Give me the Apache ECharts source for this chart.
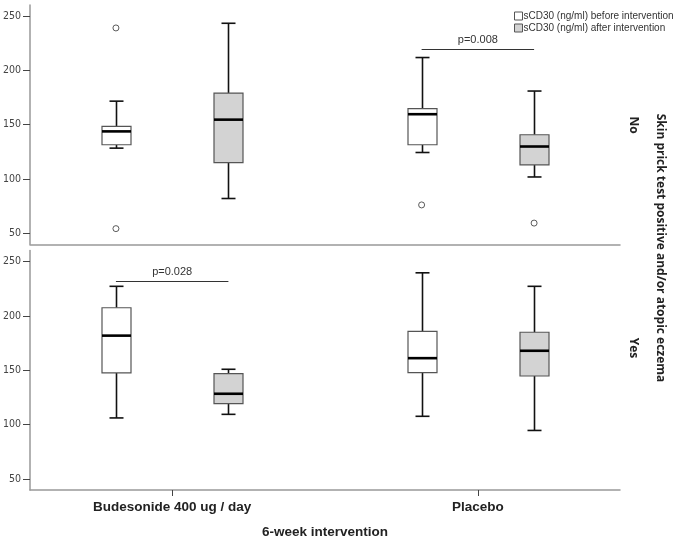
<!DOCTYPE html>
<html>
<head>
<meta charset="utf-8">
<script src="https://cdn.jsdelivr.net/npm/echarts@6/dist/echarts.min.js"></script>
<style>html,body{margin:0;padding:0;background:#fff;}#chart{width:685px;height:558px;}</style>
</head>
<body>
<div id="chart"></div>
<script>
// ---- data ----
const groups = ['Budesonide 400 ug / day', 'Placebo'];
const seriesNames = ['sCD30 (ng/ml) before intervention', 'sCD30 (ng/ml) after intervention'];
const panelLabels = ['No', 'Yes'];
const facetTitle = 'Skin prick test positive and/or atopic eczema';
const xTitle = '6-week intervention';
const yTicks = [50, 100, 150, 200, 250];
// [min, Q1, median, Q3, max] for each group
const noBefore  = [[128.4, 131.5, 143.8, 148.4, 171.6], [124.4, 131.5, 159.6, 164.8, 211.7]];
const noAfter   = [[82.1, 115.1, 154.6, 179.0, 243.2], [101.9, 113.0, 129.9, 140.7, 180.9]];
const yesBefore = [[106.2, 147.5, 181.8, 207.4, 227.1], [107.7, 147.8, 161.1, 185.8, 239.5]];
const yesAfter  = [[109.5, 119.4, 128.4, 146.9, 150.9], [94.7, 144.7, 167.9, 184.9, 227.1]];
// outliers: [group index, value]
const noOutBefore  = [[0, 238.9], [0, 54.4], [1, 76.2]];
const noOutAfter   = [[1, 59.5]];
const yesOutBefore = [];
const yesOutAfter  = [];
// significance brackets
const pTexts  = ['p=0.008', 'p=0.028'];
const pGroups = [1, 0];
const pLevels = [219.4, 231.8];

// ---- layout / style ----
const OFF = 0.184;
const BOXW = 29, CAPW = 14;
const FILLS = ['#ffffff', '#d3d3d3'];
const FONT = "'Liberation Sans', Arial, sans-serif";
const NARROW = "'Liberation Sans Narrow', 'DejaVu Sans Condensed', Arial, sans-serif";

function boxSeries(name, vals, gi, side) {
  const fill = FILLS[side];
  const sign = side === 0 ? -1 : 1;
  return {
    type: 'custom', name: name, xAxisIndex: gi, yAxisIndex: gi,
    itemStyle: { color: fill, borderColor: '#555', borderWidth: 1 },
    encode: { x: 0, y: [1, 2, 3, 4, 5] },
    data: vals.map((v, i) => [i + sign * OFF].concat(v)),
    silent: true,
    renderItem: function (params, api) {
      const x = api.value(0);
      const lo = api.coord([x, api.value(1)]);
      const q1 = api.coord([x, api.value(2)]);
      const md = api.coord([x, api.value(3)]);
      const q3 = api.coord([x, api.value(4)]);
      const hi = api.coord([x, api.value(5)]);
      const cx = Math.round(lo[0]) + 0.5;
      const wl = { stroke: '#111', lineWidth: 1.6 };
      return { type: 'group', children: [
        { type: 'line', shape: { x1: cx, y1: hi[1], x2: cx, y2: q3[1] }, style: wl },
        { type: 'line', shape: { x1: cx, y1: q1[1], x2: cx, y2: lo[1] }, style: wl },
        { type: 'line', shape: { x1: cx - CAPW / 2, y1: hi[1], x2: cx + CAPW / 2, y2: hi[1] }, style: wl },
        { type: 'line', shape: { x1: cx - CAPW / 2, y1: lo[1], x2: cx + CAPW / 2, y2: lo[1] }, style: wl },
        { type: 'rect', shape: { x: cx - BOXW / 2, y: q3[1], width: BOXW, height: q1[1] - q3[1] },
          style: { fill: fill, stroke: '#555', lineWidth: 1.2 } },
        { type: 'line', shape: { x1: cx - BOXW / 2, y1: md[1], x2: cx + BOXW / 2, y2: md[1] },
          style: { stroke: '#000', lineWidth: 2.6 } }
      ] };
    }
  };
}

function outlierSeries(name, pts, gi, side) {
  const sign = side === 0 ? -1 : 1;
  return {
    type: 'scatter', name: name + ' ', xAxisIndex: gi, yAxisIndex: gi, silent: true,
    symbol: 'circle', symbolSize: 6,
    itemStyle: { color: '#fff', borderColor: '#333', borderWidth: 1 },
    data: pts.map(p => [p[0] + sign * OFF, p[1]])
  };
}

function bracketSeries(gi) {
  const g = pGroups[gi];
  return {
    type: 'custom', xAxisIndex: gi, yAxisIndex: gi, silent: true,
    encode: { x: [0, 1], y: 2 },
    data: [[g - OFF, g + OFF, pLevels[gi]]],
    renderItem: function (params, api) {
      const a = api.coord([api.value(0), api.value(2)]);
      const b = api.coord([api.value(1), api.value(2)]);
      const y = Math.round(a[1]) + 0.5;
      return { type: 'group', children: [
        { type: 'line', shape: { x1: a[0], y1: y, x2: b[0], y2: y }, style: { stroke: '#333', lineWidth: 1 } },
        { type: 'text', style: { text: pTexts[gi], x: (a[0] + b[0]) / 2, y: y - 4,
            align: 'center', verticalAlign: 'bottom', fill: '#333', font: '11px ' + FONT } }
      ] };
    }
  };
}

function xAxisDef(gi, bottom) {
  return {
    type: 'value', gridIndex: gi, min: -0.465, max: 1.465,
    axisLine: { show: true, onZero: false, lineStyle: { color: '#999', width: 1.5 } },
    axisTick: { show: bottom, customValues: [0, 1], length: 6, lineStyle: { color: '#444' } },
    axisLabel: { show: bottom, customValues: [0, 1], formatter: v => groups[Math.round(v)] || '',
      fontFamily: FONT, fontWeight: 'bold', fontSize: 13.5, color: '#222', margin: 10 },
    splitLine: { show: false },
    name: bottom ? xTitle : '', nameLocation: 'middle', nameGap: 35,
    nameTextStyle: { fontFamily: FONT, fontWeight: 'bold', fontSize: 13.5, color: '#222' }
  };
}

function yAxisDef(gi) {
  return {
    type: 'value', gridIndex: gi, min: 40, max: 260,
    axisLine: { show: true, onZero: false, lineStyle: { color: '#999', width: 1.5 } },
    axisTick: { show: true, customValues: yTicks, length: 7, lineStyle: { color: '#444' } },
    axisLabel: { customValues: yTicks, fontFamily: NARROW, fontSize: 10.5, color: '#444', margin: 9 },
    splitLine: { show: false }
  };
}

const chart = echarts.init(document.getElementById('chart'), null, { renderer: 'canvas' });
chart.setOption({
  animation: false,
  backgroundColor: '#fff',
  grid: [
    { left: 30, right: 65, top: 5, height: 239.3 },
    { left: 30, right: 65, top: 250.5, height: 239.5 }
  ],
  xAxis: [xAxisDef(0, false), xAxisDef(1, true)],
  yAxis: [yAxisDef(0), yAxisDef(1)],
  legend: {
    orient: 'vertical', left: 509, top: 6, itemWidth: 8, itemHeight: 8, itemGap: 2, icon: 'rect',
    selectedMode: false,
    textStyle: { fontFamily: FONT, fontSize: 10, color: '#333', padding: [0, 0, 0, -4] },
    data: [
      { name: seriesNames[0], itemStyle: { color: FILLS[0], borderColor: '#555', borderWidth: 1 } },
      { name: seriesNames[1], itemStyle: { color: FILLS[1], borderColor: '#555', borderWidth: 1 } }
    ]
  },
  graphic: [
    { type: 'text', x: 633, y: 125, rotation: -Math.PI / 2,
      style: { text: panelLabels[0], align: 'center', verticalAlign: 'middle', fill: '#222', font: "bold 12px 'Open Sans', sans-serif" } },
    { type: 'text', x: 633, y: 348, rotation: -Math.PI / 2,
      style: { text: panelLabels[1], align: 'center', verticalAlign: 'middle', fill: '#222', font: "bold 12px 'Open Sans', sans-serif" } },
    { type: 'text', x: 660, y: 248, rotation: -Math.PI / 2,
      style: { text: facetTitle, align: 'center', verticalAlign: 'middle', fill: '#222', font: "bold 12px 'Open Sans', sans-serif" } }
  ],
  series: [
    boxSeries(seriesNames[0], noBefore, 0, 0),
    boxSeries(seriesNames[1], noAfter, 0, 1),
    boxSeries(seriesNames[0], yesBefore, 1, 0),
    boxSeries(seriesNames[1], yesAfter, 1, 1),
    outlierSeries(seriesNames[0], noOutBefore, 0, 0),
    outlierSeries(seriesNames[1], noOutAfter, 0, 1),
    outlierSeries(seriesNames[0], yesOutBefore, 1, 0),
    outlierSeries(seriesNames[1], yesOutAfter, 1, 1),
    bracketSeries(0),
    bracketSeries(1)
  ]
});
</script>
</body>
</html>
